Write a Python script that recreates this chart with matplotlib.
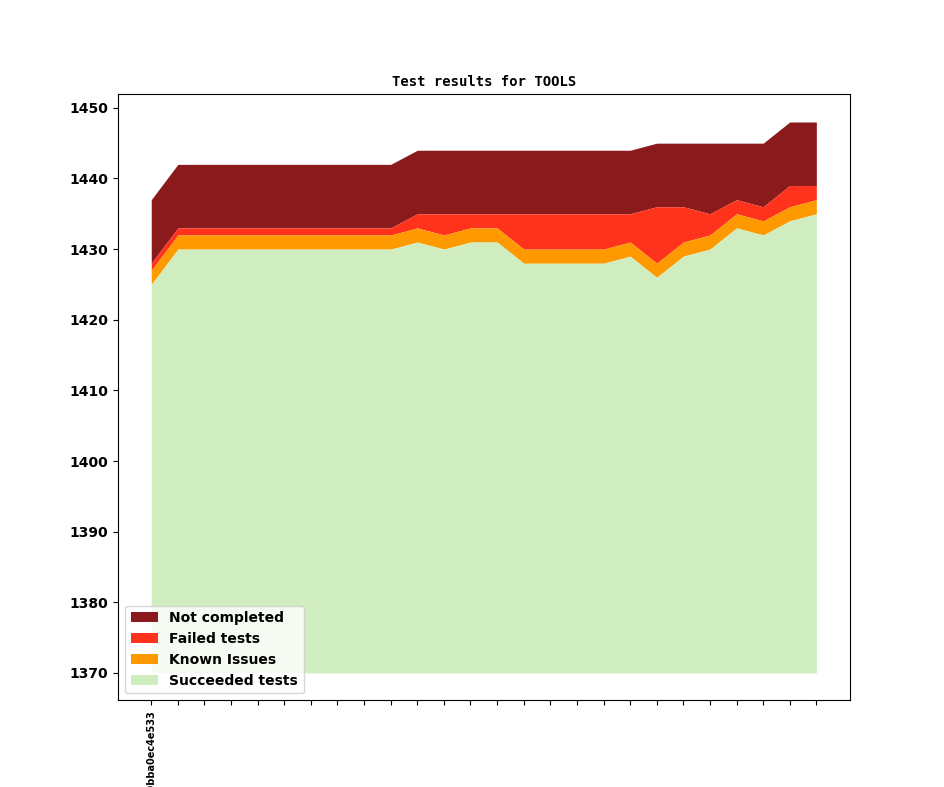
import numpy as np
import matplotlib
matplotlib.use('Agg')
import matplotlib.pyplot as plt

plt.rcParams['font.weight'] = 'bold'

# values (cumulative tops of each band)
succeeded = [1425, 1430, 1430, 1430, 1430, 1430, 1430, 1430, 1430, 1430,
             1431, 1430, 1431, 1431, 1428, 1428, 1428, 1428, 1429, 1426,
             1429, 1430, 1433, 1432, 1434, 1435]
known = [2] * 26
failed_top = [1428, 1433, 1433, 1433, 1433, 1433, 1433, 1433, 1433, 1433,
              1435, 1435, 1435, 1435, 1435, 1435, 1435, 1435, 1435, 1436,
              1436, 1435, 1437, 1436, 1439, 1439]
total = [1437, 1442, 1442, 1442, 1442, 1442, 1442, 1442, 1442, 1442,
         1444, 1444, 1444, 1444, 1444, 1444, 1444, 1444, 1444, 1445,
         1445, 1445, 1445, 1445, 1448, 1448]
tick_labels = ['3c0bba0ec4e533'] + [''] * 25
baseline = 1370

succeeded = np.array(succeeded)
known_top = succeeded + np.array(known)
failed_top = np.array(failed_top)
total = np.array(total)
x = np.arange(len(succeeded))

fig, ax = plt.subplots(figsize=(9.44, 7.87), dpi=100)
ax.fill_between(x, failed_top, total, color='#8b1a1c', lw=0, label='Not completed')
ax.fill_between(x, known_top, failed_top, color='#ff331c', lw=0, label='Failed tests')
ax.fill_between(x, succeeded, known_top, color='#ff9900', lw=0, label='Known Issues')
ax.fill_between(x, baseline, succeeded, color='#d0edbf', lw=0, label='Succeeded tests')

ax.set_title('Test results for TOOLS', family='DejaVu Sans Mono', fontsize=10, fontweight='bold')
ax.set_xticks(x)
ax.set_xticklabels(tick_labels, rotation=90, fontsize=7)
ax.legend(loc='lower left', fontsize=10)

plt.savefig('out.png', dpi=100)
